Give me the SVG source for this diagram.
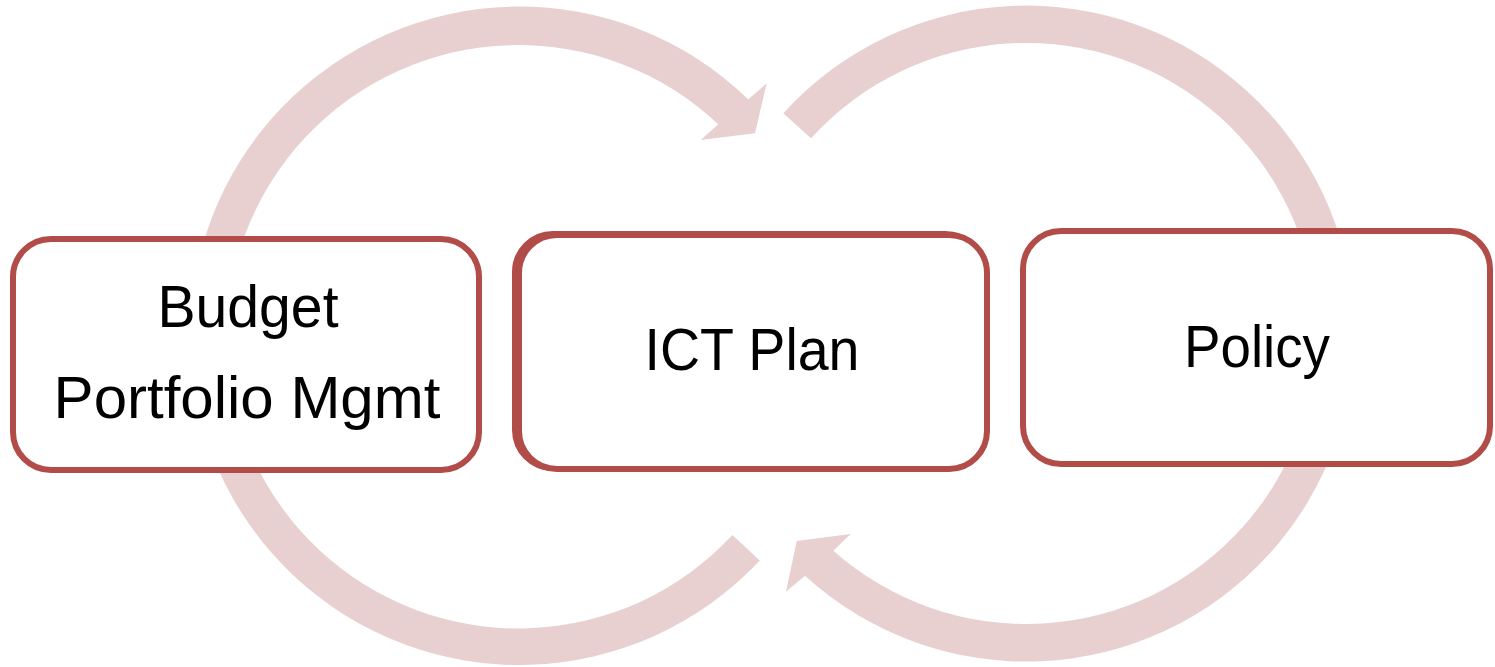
<svg xmlns="http://www.w3.org/2000/svg" width="1495" height="667" viewBox="0 0 1495 667">
  <style>
    .loop { fill: #E8D0D1; stroke: none; }
    .box { fill: #FFFFFF; stroke: #B14C48; stroke-width: 6; }
    .label { font-family: "Liberation Sans", Arial, sans-serif; font-size: 60px; fill: #000000; text-anchor: middle; }
  </style>

  <!-- circular feedback arrows, drawn beneath the boxes -->
  <g id="connectors">
    <!-- left loop: from the lower right, around the left, into ICT Plan from above -->
    <path class="loop" d="M 759.8 560.5 A 329.25 329.25 0 1 1 748.3 99.3 L 766.7 83.3 L 755 133.3 L 700.7 140 L 718.3 124.3 A 291.75 291.75 0 1 0 732.4 535 Z"/>
    <!-- right loop: from the upper left, around the right, into ICT Plan from below -->
    <path class="loop" d="M 783.3 113.3 A 328 328 0 1 1 805 575.7 L 786 591.7 L 796.7 541 L 850.7 534 L 833.3 550.7 A 290.5 290.5 0 1 0 811 138.3 Z"/>
  </g>

  <g id="node-budget">
    <rect class="box" x="13" y="239" width="466" height="231" rx="38" ry="38"/>
    <text class="label" x="248" y="327" textLength="181" lengthAdjust="spacingAndGlyphs">Budget</text>
    <text class="label" x="247" y="418">Portfolio Mgmt</text>
  </g>

  <g id="node-ict-plan">
    <!-- heavier left/top edge -->
    <rect class="box" x="515" y="234" width="468" height="234" rx="38" ry="38"/>
    <rect class="box" x="519" y="235" width="468" height="234" rx="38" ry="38"/>
    <text class="label" x="752" y="370" textLength="215" lengthAdjust="spacingAndGlyphs">ICT Plan</text>
  </g>

  <g id="node-policy">
    <rect class="box" x="1023" y="231" width="467" height="233" rx="38" ry="38"/>
    <text class="label" x="1257" y="367" textLength="146" lengthAdjust="spacingAndGlyphs">Policy</text>
  </g>
</svg>
